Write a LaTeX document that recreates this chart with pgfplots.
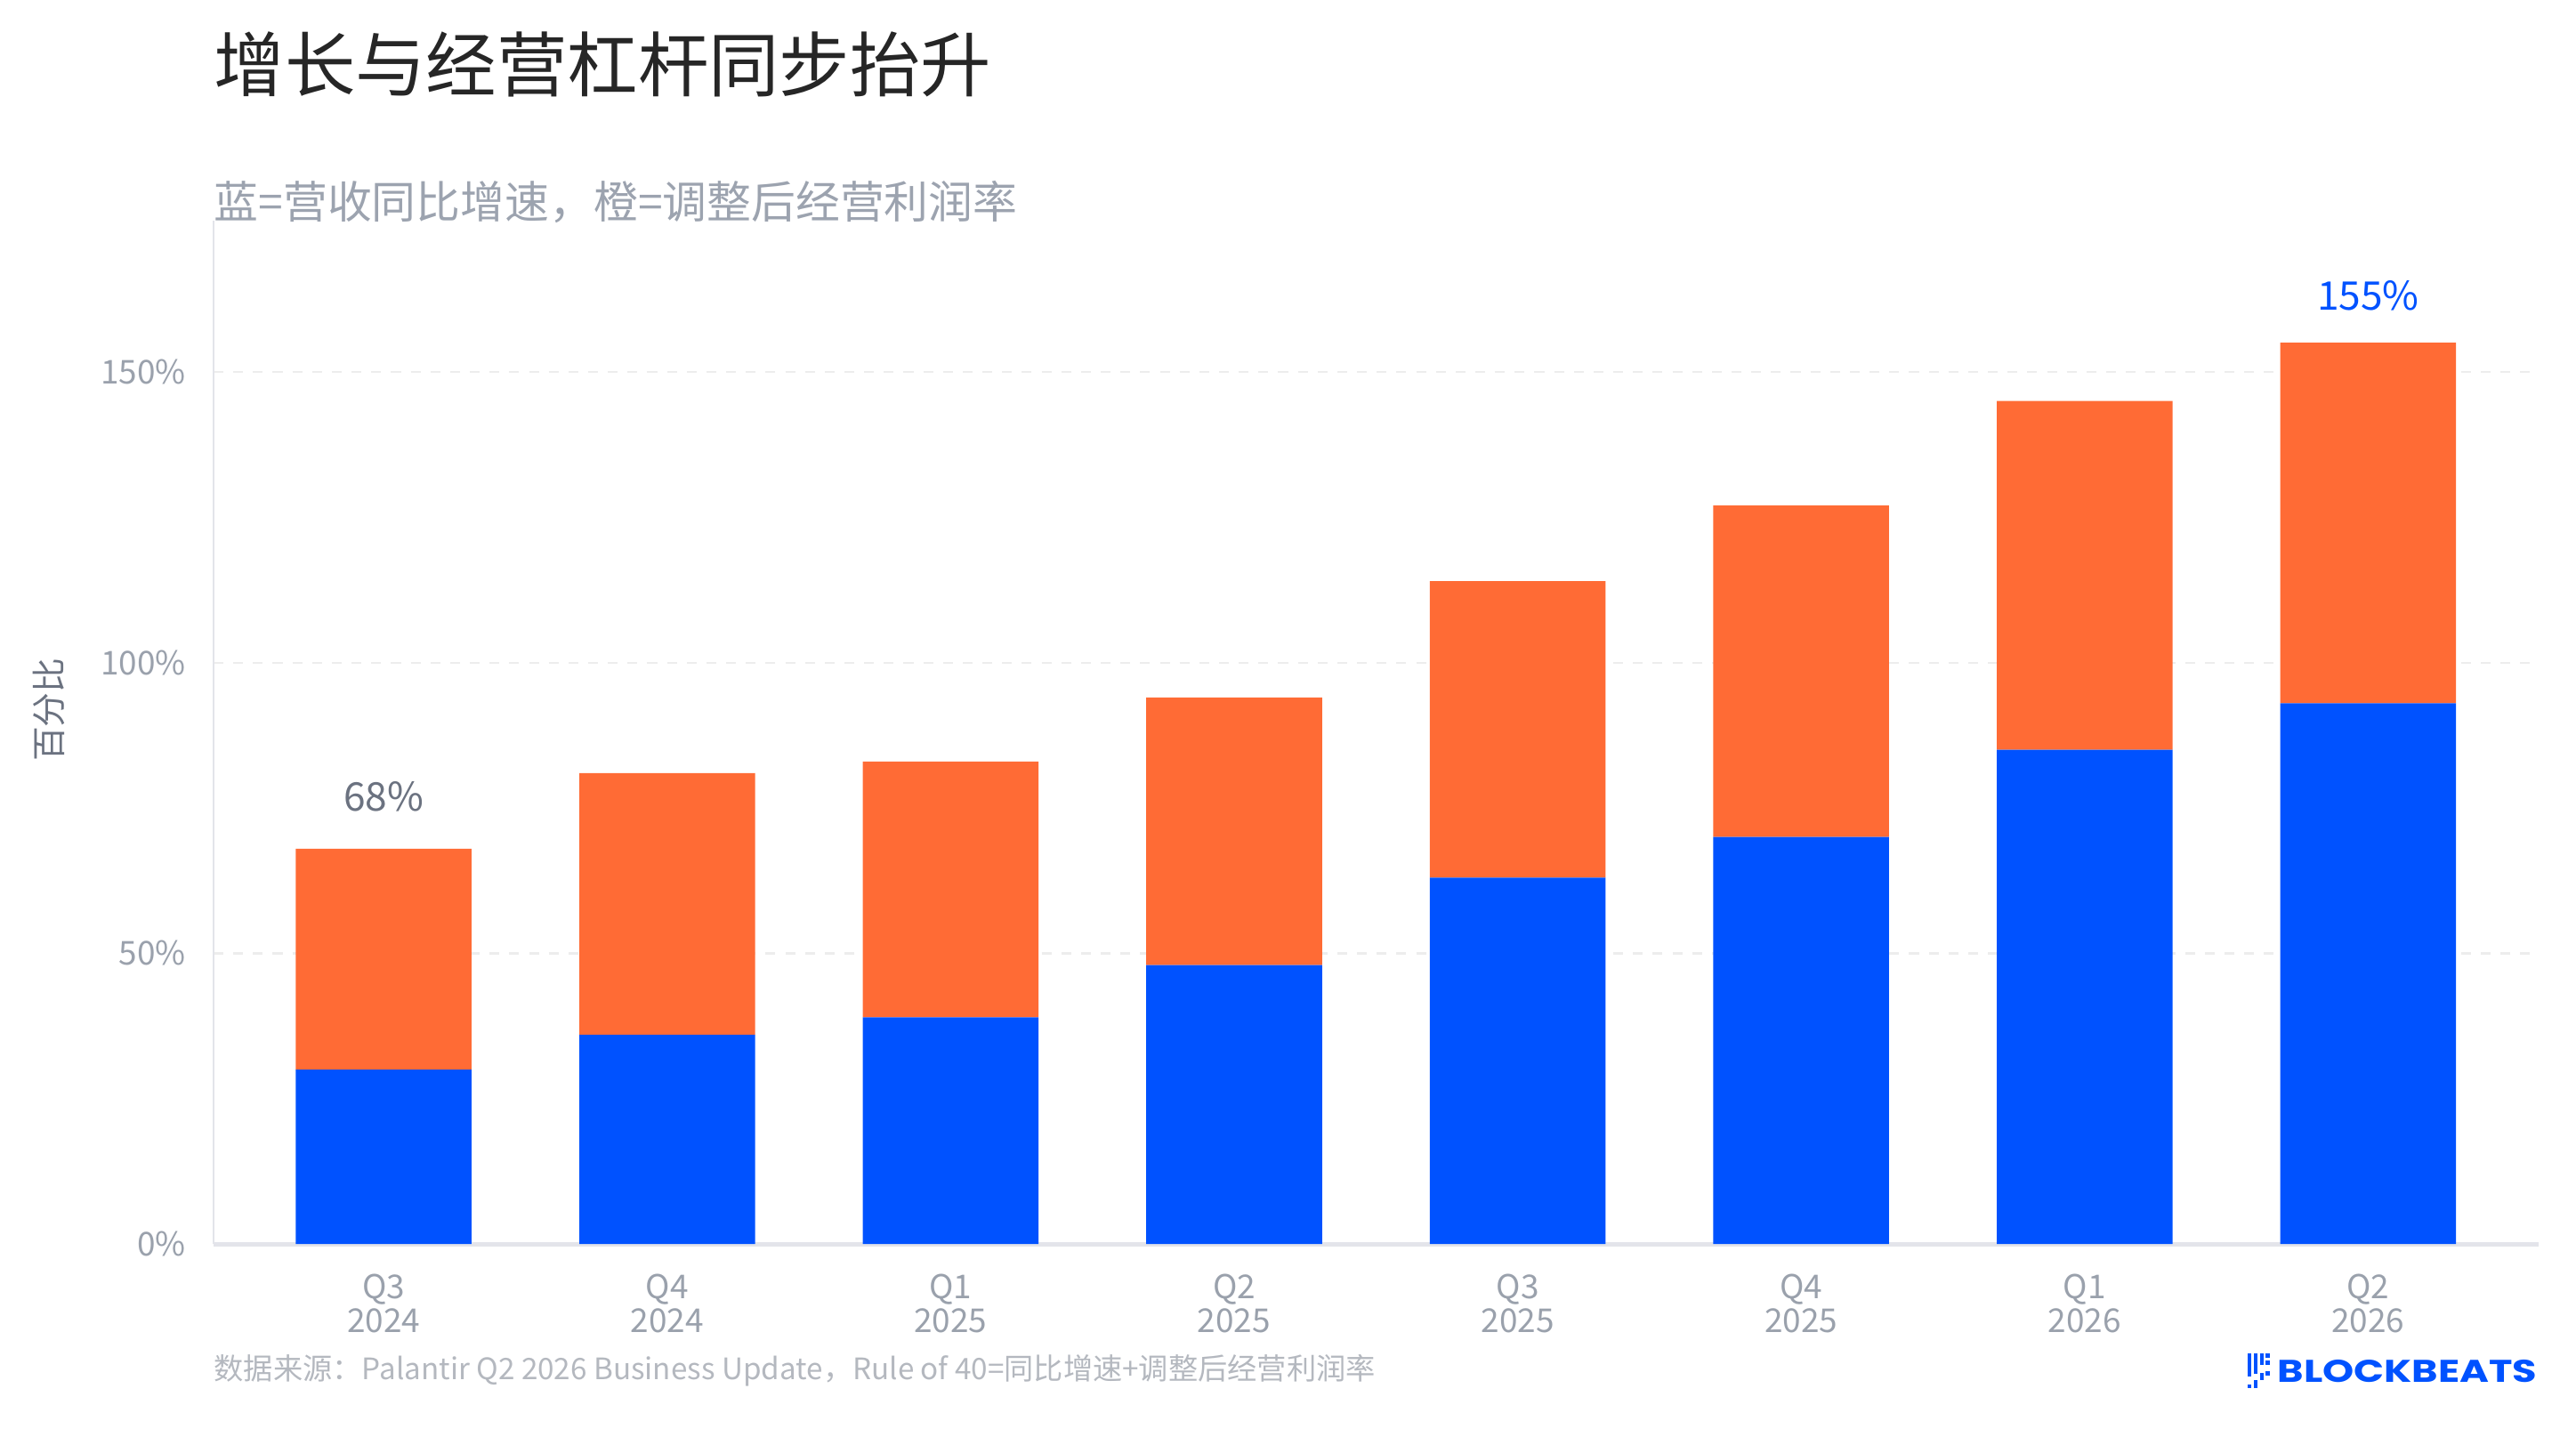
\documentclass[border=0pt]{standalone}
\usepackage{fontspec}
\usepackage{graphicx}
\usepackage{pgfplots}
\pgfplotsset{compat=1.18}
\setmainfont{Noto Sans CJK SC}
\newfontfamily\logofont{Poppins}
\definecolor{cblue}{HTML}{0052FF}
\definecolor{corange}{HTML}{FF6B35}
\definecolor{ctitle}{HTML}{262626}
\definecolor{csub}{HTML}{9CA3AF}
\definecolor{ctick}{HTML}{9AA1AC}
\definecolor{clab}{HTML}{6B7280}
\definecolor{cfoot}{HTML}{B4B8BF}
\definecolor{caxis}{HTML}{E3E4EA}
\definecolor{cgrid}{HTML}{EDEDED}
\begin{document}
\begin{tikzpicture}
\begin{axis}[
  at={(65pt,56pt)}, anchor=south west,
  scale only axis, width=707.5pt, height=311.5pt,
  ybar stacked, bar width=53.5pt,
  xmin=-0.6, xmax=7.6, ymin=0, ymax=176,
  xtick={0,...,7},
  xticklabels={{Q3\\2024},{Q4\\2024},{Q1\\2025},{Q2\\2025},{Q3\\2025},{Q4\\2025},{Q1\\2026},{Q2\\2026}},
  ytick={0,50,100,150},
  yticklabels={0\%,50\%,100\%,150\%},
  xticklabel style={align=center, font=\fontsize{10}{10.5}\selectfont, text=ctick, yshift=-5.5pt},
  yticklabel style={font=\fontsize{10}{12}\selectfont, text=ctick, xshift=-5pt},
  major tick length=0pt,
  axis line style={draw=none},
  ymajorgrids, grid style={cgrid, dashed, line width=0.6pt},
  clip=false,
]
\addplot[fill=cblue, draw=none] coordinates {(0,30) (1,36) (2,39) (3,48) (4,63) (5,70) (6,85) (7,93)};
\addplot[fill=corange, draw=none] coordinates {(0,38) (1,45) (2,44) (3,46) (4,51) (5,57) (6,60) (7,62)};
\draw[caxis, line width=0.6pt] (axis cs:-0.6,0) -- (axis cs:-0.6,176);
\draw[caxis, line width=1.4pt] (axis cs:-0.6,0) -- (axis cs:7.6,0);
\node[anchor=base, yshift=11.5pt, text=clab, font=\fontsize{12}{14}\selectfont] at (axis cs:0,68) {68\%};
\node[anchor=base, yshift=10pt, text=cblue, font=\fontsize{12}{14}\selectfont] at (axis cs:7,155) {155\%};
\end{axis}
\node[anchor=base west, inner sep=0pt, text=ctitle, font=\fontsize{21.5}{24}\selectfont] at (65pt,407pt) {增长与经营杠杆同步抬升};
\node[anchor=base west, inner sep=0pt, text=csub, font=\fontsize{13.5}{16}\selectfont] at (65pt,368.3pt) {蓝=营收同比增速，橙=调整后经营利润率};
\node[rotate=90, inner sep=0pt, text=clab, font=\fontsize{10.5}{12}\selectfont] at (15pt,218.6pt) {百分比};
\node[anchor=base west, inner sep=0pt, text=cfoot, font=\fontsize{9}{11}\selectfont] at (65pt,14.7pt) {数据来源：Palantir Q2 2026 Business Update，Rule of 40=同比增速+调整后经营利润率};
\node[anchor=base west, inner sep=0pt, text=cblue] at (693pt,14pt) {\resizebox{79pt}{6.8pt}{\logofont\bfseries BLOCKBEATS}};
% logo mark
\fill[cblue] (684pt,15.6pt) rectangle (685.1pt,22.8pt);
\fill[cblue] (684pt,12.2pt) rectangle (685.1pt,13.3pt);
\fill[cblue] (685.9pt,16.65pt) rectangle (687pt,22.8pt);
\fill[cblue] (685.9pt,12.2pt) rectangle (687pt,14.7pt);
\fill[cblue] (687.8pt,19.2pt) rectangle (688.9pt,22.8pt);
\fill[cblue] (687.8pt,14.7pt) rectangle (688.9pt,16.9pt);
\fill[cblue] (689.6pt,21.4pt) rectangle (690.7pt,22.8pt);
\fill[cblue] (689.6pt,19.2pt) rectangle (690.7pt,20.5pt);
\fill[cblue] (689.6pt,16pt) rectangle (690.7pt,17.4pt);
\pgfresetboundingbox
\path[use as bounding box] (0,0) rectangle (784pt,434.65pt);
\end{tikzpicture}
\end{document}
